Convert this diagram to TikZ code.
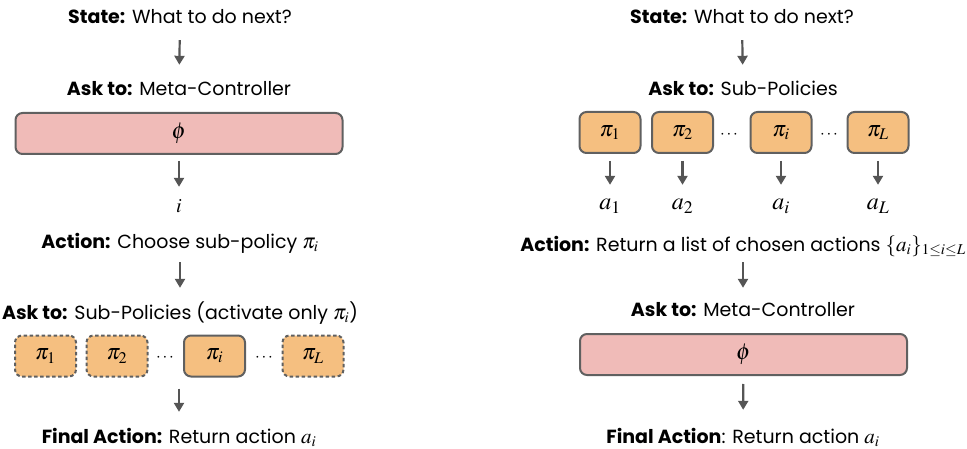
\documentclass[tikz,border=0pt]{standalone}
\usepackage{mathptmx}
\usepackage[no-math]{fontspec}
\setmainfont{Poppins}
\DeclareMathSizes{19}{21}{15}{12}
\usepackage{tikz}
\usetikzlibrary{arrows.meta}
\usetikzlibrary{positioning,calc}

\definecolor{mcpink}{HTML}{F0BBB8}
\definecolor{sporange}{HTML}{F5BF80}
\definecolor{edgegray}{HTML}{606060}
\definecolor{arrgray}{HTML}{555555}

\begin{document}
\begin{tikzpicture}[x=1pt,y=-1pt,
  arr/.style={-{Triangle[length=9pt,width=10pt]}, line width=2.2pt, arrgray,
    shorten <=11.5pt, shorten >=16.5pt}]
  \tikzset{
  lbl/.style = {inner sep=0pt, text height=14pt, text depth=5pt,
    font=\fontsize{19}{21}\selectfont},
  mcbox/.style = {draw=edgegray, fill=mcpink, line width=2pt,
    rounded corners=7pt, minimum width=327pt, minimum height=41pt,
    inner sep=0pt, font=\fontsize{23}{24}\selectfont},% meta-controller
  spbox/.style = {draw=edgegray, fill=sporange, line width=2pt,
    rounded corners=7pt, minimum width=61pt, minimum height=41pt,
    inner sep=0pt, font=\fontsize{22}{24}\selectfont},% sous-politique
  spoff/.style = {spbox, dash pattern=on 3.5pt off 2.5pt},% inactive
  mlbl/.style = {inner sep=0pt, text height=11pt, text depth=4pt,
    font=\fontsize{24}{26}\selectfont},
  dots/.style = {inner sep=0pt, font=\fontsize{17}{18}\selectfont}
}
\useasboundingbox (0,0) rectangle (967,449);

% left: meta-controller first
\node [lbl] (stateL) at (180,19) {\textbf{State:} What to do next?};
\node [lbl] (askL) at (179,91) {\textbf{Ask to:} Meta-Controller};
\node [mcbox] (phiL) at (179,133.5) {$\phi$};
\node [mlbl, font=\fontsize{20}{22}\selectfont] (iL) at (179,209) {$i$};
\node [lbl] (actL) at (180,244) {\textbf{Action:} Choose sub-policy $\pi_i$};
\node [lbl] (askspL) at (180,315) {\textbf{Ask to:} Sub-Policies (activate only $\pi_i$)};
\node [spoff] (pL1) at (45.5,356) {$\pi_1$};
\node [spoff] (pL2) at (117,356) {$\pi_2$};
\node [dots] (dL1) at (165,358) {$\cdots$};
\node [spbox] (pLi) at (214.5,356) {$\pi_i$};
\node [dots] (dL2) at (264,358) {$\cdots$};
\node [spoff] (pLL) at (313,356) {$\pi_L$};
\node [lbl] (finL) at (179,439) {\textbf{Final Action:} Return action $a_i$};

\draw [arr] (stateL) -- (askL);
\draw [arr, shorten <=6pt, shorten >=14.5pt] (phiL) -- (iL);
\draw [arr, shorten <=8.5pt, shorten >=17.5pt] (actL) -- (askspL);
\draw [arr, shorten <=11pt, shorten >=17.5pt] (finL |- pLi.south) -- (finL);

% right: sub-policies first
\node [lbl] (stateR) at (742,19) {\textbf{State:} What to do next?};
\node [lbl] (askR) at (743,91) {\textbf{Ask to:} Sub-Policies};
\node [spbox] (pR1) at (610,132.5) {$\pi_1$};
\node [spbox] (pR2) at (682.5,132.5) {$\pi_2$};
\node [dots] (dR1) at (729,135) {$\cdots$};
\node [spbox] (pRi) at (781,132.5) {$\pi_i$};
\node [dots] (dR2) at (829,135) {$\cdots$};
\node [spbox] (pRL) at (878,132.5) {$\pi_L$};
\foreach \n in {1,2,i,L} {
  \node [mlbl] (aR\n) at (pR\n |- 0,206) {$a_\n$};
  \draw [arr, shorten <=7pt, shorten >=13.5pt] (pR\n) -- (aR\n);
}
\node [lbl] (actR) at (743,247) {\textbf{Action:} Return a list of chosen actions $\{a_i\}_{1\leq i\leq L}$};
\node [lbl] (askmR) at (743,312) {\textbf{Ask to:} Meta-Controller};
\node [mcbox] (phiR) at (743.5,354.5) {$\phi$};
\node [lbl] (finR) at (743,439) {\textbf{Final Action}: Return action $a_i$};

\draw [arr] (stateR) -- (askR);
\draw [arr, shorten <=5.5pt, shorten >=14.5pt] (actR) -- (askmR);
\draw [arr, shorten <=8pt, shorten >=19.5pt] (phiR) -- (finR);
\end{tikzpicture}
\end{document}
